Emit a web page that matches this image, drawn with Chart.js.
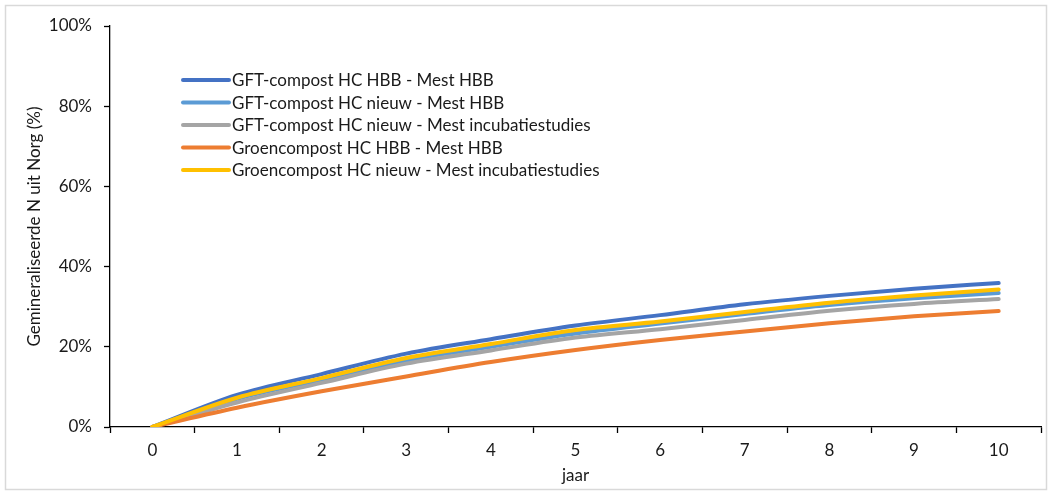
<!DOCTYPE html>
<html>
<head>
<meta charset="utf-8">
<script src="https://cdn.jsdelivr.net/npm/chart.js@4"></script>
<style>
  body { margin: 0; background: #fff; }
  #wrap { position: relative; width: 1052px; height: 492px; }
</style>
</head>
<body>
<div id="wrap"><canvas id="chart" width="1052" height="492"></canvas></div>
<script>
var jaren = ["0", "1", "2", "3", "4", "5", "6", "7", "8", "9", "10"];
var yTicks = [0, 20, 40, 60, 80, 100];

var namen = [
    "GFT-compost HC HBB - Mest HBB",
    "GFT-compost HC nieuw - Mest HBB",
    "GFT-compost HC nieuw - Mest incubatiestudies",
    "Groencompost HC HBB - Mest HBB",
    "Groencompost HC nieuw - Mest incubatiestudies"
];
var kleuren = ["#4472C4", "#5B9BD5", "#A5A5A5", "#ED7D31", "#FFC000"];

var gftHbb       = [0, 8.0, 13.2, 18.3, 21.9, 25.3, 27.9, 30.6, 32.7, 34.5, 35.9];
var gftNieuwHbb  = [0, 7.0, 11.8, 16.6, 20.0, 23.3, 25.8, 28.2, 30.4, 32.1, 33.4];
var gftNieuwInc  = [0, 6.1, 11.0, 15.8, 19.1, 22.3, 24.4, 26.7, 29.0, 30.7, 31.9];
var groenHbb     = [0, 4.8, 8.9, 12.6, 16.2, 19.2, 21.7, 23.8, 25.9, 27.6, 28.9];
var groenNieuwInc= [0, 7.3, 12.2, 17.2, 20.7, 24.2, 26.3, 28.7, 31.0, 32.8, 34.3];

var reeksen = [gftHbb, gftNieuwHbb, gftNieuwInc, groenHbb, groenNieuwInc];

var tekstFont = "Lato, 'Open Sans', sans-serif";
var tekstMaat = 17;

function maak_datasets(){
    let ds = [];
    for (let i = 0; i < reeksen.length; i++) {
        ds.push({
            label: namen[i],
            data: reeksen[i],
            borderColor: kleuren[i],
            backgroundColor: kleuren[i],
            borderWidth: 4,
            pointRadius: 0,
            cubicInterpolationMode: "monotone",
            borderCapStyle: "round",
            order: reeksen.length - i
        });
    }
    return ds;
}

// legend inside the plot area + light frame round the picture
var extraPlugin = {
    id: "extra",
    beforeDraw: function(chart){
        let ctx = chart.ctx;
        ctx.save();
        ctx.strokeStyle = "#d9d9d9";
        ctx.lineWidth = 1.5;
        ctx.strokeRect(5.5, 5.5, 1041, 484);
        ctx.restore();
    },
    afterDraw: function(chart){
        let ctx = chart.ctx;
        ctx.save();
        ctx.font = tekstMaat + "px " + tekstFont;
        ctx.textBaseline = "middle";
        ctx.fillStyle = "#1a1a1a";
        let x0 = 183, y0 = 80, stap = 22.5;
        chart.data.datasets.forEach(function(d, i){
            let y = y0 + i * stap;
            ctx.strokeStyle = d.borderColor;
            ctx.lineWidth = 4;
            ctx.lineCap = "round";
            ctx.beginPath();
            ctx.moveTo(x0, y);
            ctx.lineTo(x0 + 46, y);
            ctx.stroke();
            ctx.fillText(d.label, x0 + 49, y + 1);
        });
        ctx.restore();
    }
};

var ctx = document.getElementById("chart");
var chart = new Chart(ctx, {
    type: "line",
    data: { labels: jaren, datasets: maak_datasets() },
    plugins: [extraPlugin],
    options: {
        responsive: false,
        animation: false,
        layout: { padding: { top: 26, right: 11, bottom: 6, left: 0 } },
        plugins: { legend: { display: false }, tooltip: { enabled: false } },
        scales: {
            x: {
                offset: true,
                grid: { offset: true, drawOnChartArea: false, color: "#000", tickLength: 6, tickWidth: 1.3 },
                border: { color: "#000", width: 1.3 },
                ticks: { color: "#1a1a1a", font: { size: tekstMaat, family: tekstFont }, padding: 7, maxRotation: 0 },
                title: { display: true, text: "jaar", color: "#1a1a1a", font: { size: tekstMaat, family: tekstFont }, padding: { top: 8, bottom: 0 } },
                afterFit: function(s){ s.height = 59; }
            },
            y: {
                min: 0,
                max: 100,
                afterBuildTicks: function(s){ s.ticks = yTicks.map(function(v){ return { value: v }; }); },
                grid: { drawOnChartArea: false, color: "#000", tickLength: 6, tickWidth: 1.3 },
                border: { color: "#000", width: 1.3 },
                ticks: { color: "#1a1a1a", font: { size: tekstMaat, family: tekstFont }, padding: 12,
                         callback: function(v){ return v + "%"; } },
                title: { display: true, text: "Gemineraliseerde N uit Norg (%)", color: "#1a1a1a", font: { size: tekstMaat, family: tekstFont }, padding: { top: 24, bottom: 0 } },
                afterFit: function(s){ s.width = 110; }
            }
        }
    }
});
</script>
</body>
</html>
